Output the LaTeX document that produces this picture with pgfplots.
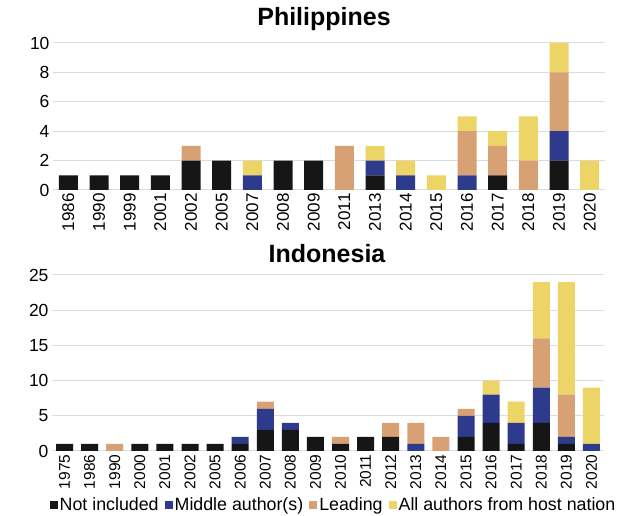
\documentclass[border=0pt]{standalone}
\usepackage{fontspec}
\setmainfont{Liberation Sans}
\usepackage{pgfplots}
\usepackage{pgfplotstable}
\pgfplotsset{compat=1.18}

\definecolor{cNI}{HTML}{161616}
\definecolor{cMA}{HTML}{2E3A8C}
\definecolor{cLE}{HTML}{D8A174}
\definecolor{cAL}{HTML}{EDD467}
\definecolor{gridc}{HTML}{DCDCDC}

% Philippines
\pgfplotstableread{
x year NI MA LE AL
0  1986 1 0 0 0
1  1990 1 0 0 0
2  1999 1 0 0 0
3  2001 1 0 0 0
4  2002 2 0 1 0
5  2005 2 0 0 0
6  2007 0 1 0 1
7  2008 2 0 0 0
8  2009 2 0 0 0
9  2011 0 0 3 0
10 2013 1 1 0 1
11 2014 0 1 0 1
12 2015 0 0 0 1
13 2016 0 1 3 1
14 2017 1 0 2 1
15 2018 0 0 2 3
16 2019 2 2 4 2
17 2020 0 0 0 2
}\phil

% Indonesia
\pgfplotstableread{
x year NI MA LE AL
0  1975 1 0 0 0
1  1986 1 0 0 0
2  1990 0 0 1 0
3  2000 1 0 0 0
4  2001 1 0 0 0
5  2002 1 0 0 0
6  2005 1 0 0 0
7  2006 1 1 0 0
8  2007 3 3 1 0
9  2008 3 1 0 0
10 2009 2 0 0 0
11 2010 1 0 1 0
12 2011 2 0 0 0
13 2012 2 0 2 0
14 2013 0 1 3 0
15 2014 0 0 2 0
16 2015 2 3 1 0
17 2016 4 4 0 2
18 2017 1 3 0 3
19 2018 4 5 7 8
20 2019 1 1 6 16
21 2020 0 1 0 8
}\indo

\pgfplotsset{
  panel/.style={
    scale only axis,
    width=552pt,
    ybar stacked,
    ymin=0,
    xtick=data,
    axis line style={draw=none},
    tick style={draw=none},
    ymajorgrids,
    grid style={gridc, line width=1pt},
    yticklabel style={font=\fontsize{17.5}{17.5}\selectfont},
    /pgf/number format/assume math mode=true,
    every axis plot/.append style={draw=none},
  },
}

\begin{document}
\begin{tikzpicture}
\useasboundingbox (0,0) rectangle (623pt,516pt);

\node[anchor=base, font=\fontsize{25}{28}\selectfont\bfseries] at (324pt,490pt) {Philippines};
\node[anchor=base, font=\fontsize{25}{28}\selectfont\bfseries] at (327pt,253pt) {Indonesia};

\begin{axis}[panel,
  at={(53pt,326pt)},
  height=147pt,
  ymax=10, ytick={0,2,...,10},
  xmin=-0.5, xmax=17.5,
  bar width=19pt,
  xticklabels from table={\phil}{year},
  xticklabel style={rotate=90, anchor=east, font=\fontsize{17}{17}\selectfont},
]
  \addplot[fill=cNI] table[x=x, y=NI] {\phil};
  \addplot[fill=cMA] table[x=x, y=MA] {\phil};
  \addplot[fill=cLE] table[x=x, y=LE] {\phil};
  \addplot[fill=cAL] table[x=x, y=AL] {\phil};
\end{axis}

\begin{axis}[panel,
  at={(52pt,65pt)},
  height=176pt,
  ymax=25, ytick={0,5,...,25},
  xmin=-0.5, xmax=21.5,
  bar width=17pt,
  xticklabels from table={\indo}{year},
  xticklabel style={rotate=90, anchor=east, font=\fontsize{15.5}{15.5}\selectfont},
  legend columns=4,
  legend style={draw=none, at={(0.51,-0.305)}, anchor=center,
    font=\fontsize{17.8}{17.8}\selectfont, inner sep=0pt,
    /tikz/every even column/.append style={column sep=4pt}},
  legend image code/.code={\fill[#1] (0pt,-4pt) rectangle (8pt,4pt);},
  legend cell align=left,
]
  \addplot[fill=cNI] table[x=x, y=NI] {\indo};
  \addplot[fill=cMA] table[x=x, y=MA] {\indo};
  \addplot[fill=cLE] table[x=x, y=LE] {\indo};
  \addplot[fill=cAL] table[x=x, y=AL] {\indo};
  \legend{Not included, Middle author(s), Leading, All authors from host nation}
\end{axis}
\end{tikzpicture}
\end{document}
